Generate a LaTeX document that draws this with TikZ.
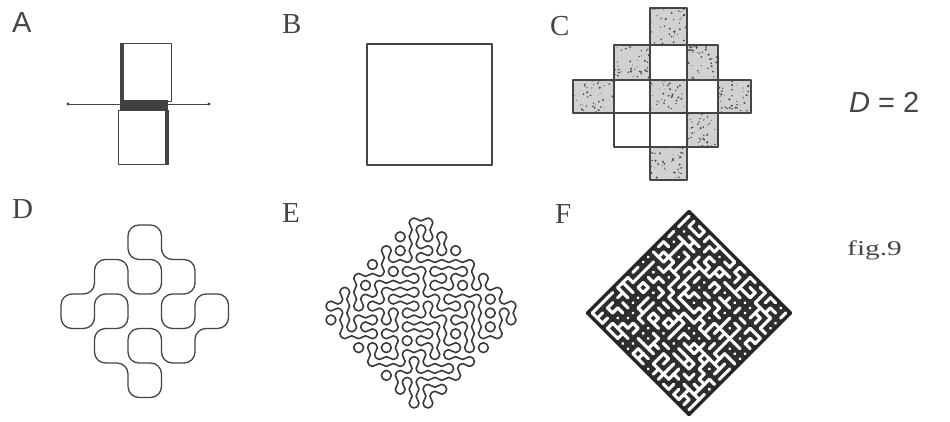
\documentclass[tikz,border=0pt]{standalone}
\usepackage{fontspec}
\setmainfont{Liberation Serif}
\newfontfamily\sansf{Liberation Sans}
\newfontfamily\figfont[FakeStretch=1.4]{Liberation Serif}
\newcommand\truarc[4]{\draw ({(#1)+(#3)*\hh},{#2}) .. controls ({(#1)+(#3)*\hh},{(#2)+(#4)*\kk}) and ({(#1)+(#3)*\kk},{(#2)+(#4)*\hh}) .. ({#1},{(#2)+(#4)*\hh});}
\newcommand\speck[4]{\fill[black!18] (#1,#2) rectangle (#3,#4);
  \foreach \n in {1,...,45}{\fill[black!72] ({#1+rnd*(#3-#1)},{#2+rnd*(#4-#2)}) circle ({0.35+0.8*rnd});}}
\begin{document}
\begin{tikzpicture}[x=1pt,y=-1pt,line join=round]
\definecolor{ink}{gray}{0.27}
\useasboundingbox (0,0) rectangle (950,421);
\fill[white] (0,0) rectangle (950,421);
\pgfmathsetseed{4242}
\tikzset{
  lab/.style={inner sep=0pt,anchor=base west,text=ink,font=\fontsize{29}{30}\selectfont},
  thin line/.style={draw=ink,line width=1pt},
  cellbox/.style={draw=ink,line width=1.6pt},
  curve/.style={draw=ink,line width=1.3pt}
}
% ---------- labels
\node[lab,font=\sansf\fontsize{29}{30}\selectfont] (lA) at (12,32) {A};
\node[lab] (lB) at (282,33) {B};
\node[lab] (lC) at (550,35) {C};
\node[lab] (lD) at (12,218) {D};
\node[lab] (lE) at (282,222) {E};
\node[lab] (lF) at (555,223) {F};
\node[inner sep=0pt,anchor=base west,text=ink,font=\sansf\fontsize{29}{30}\selectfont] (dim) at (849,112) {\textit{D}\ =\ 2};
\node[inner sep=0pt,anchor=base west,text=ink,font=\figfont\fontsize{21}{24}\selectfont] (fig) at (847,255) {fig.9};
% ---------- A
\coordinate (aL) at (68,104);
\coordinate (aR) at (209,104);
\draw[ink,line width=0.8pt] (aL) -- (aR);
\fill[ink] (aL) circle (1.6);
\fill[ink] (aR) circle (1.6);
\draw[thin line] (120,43) rectangle (171,101);
\fill[ink] (120,43) rectangle (124,101);
\fill[black!75] (120,100) rectangle (168,110);
\draw[thin line] (118,110) rectangle (168,164);
\fill[ink] (164.5,110) rectangle (168,164);
% ---------- B
\draw[ink,line width=1.3pt] (367,44) rectangle (492,165);
% ---------- C
\speck{650}{8}{687}{45}
\speck{614}{45}{650}{80}
\speck{687}{45}{718}{80}
\speck{573}{80}{614}{113}
\speck{650}{80}{687}{113}
\speck{718}{80}{751}{113}
\speck{687}{113}{718}{147}
\speck{650}{147}{687}{180}
\draw[cellbox] (650,8) rectangle (687,45);
\draw[cellbox] (614,45) rectangle (650,80);
\draw[cellbox] (650,45) rectangle (687,80);
\draw[cellbox] (687,45) rectangle (718,80);
\draw[cellbox] (573,80) rectangle (614,113);
\draw[cellbox] (614,80) rectangle (650,113);
\draw[cellbox] (650,80) rectangle (687,113);
\draw[cellbox] (687,80) rectangle (718,113);
\draw[cellbox] (718,80) rectangle (751,113);
\draw[cellbox] (614,113) rectangle (650,147);
\draw[cellbox] (650,113) rectangle (687,147);
\draw[cellbox] (687,113) rectangle (718,147);
\draw[cellbox] (650,147) rectangle (687,180);
% ---------- D
\begin{scope}[shift={(61,225)},x=33.5pt,y=-34.5pt]
\draw[curve,rounded corners=11pt] (1.5,1) -- (2,1) -- (2,2) -- (3,2) -- (3,1) -- (2,1) -- (2,0) -- (3,0) -- (3,1) -- (4,1)
 -- (4,2) -- (3,2) -- (3,3) -- (4,3) -- (4,2) -- (5,2) -- (5,3) -- (4,3) -- (4,4)
 -- (3,4) -- (3,3) -- (2,3) -- (2,4) -- (3,4) -- (3,5) -- (2,5) -- (2,4) -- (1,4)
 -- (1,3) -- (2,3) -- (2,2) -- (1,2) -- (1,3) -- (0,3) -- (0,2) -- (1,2) -- (1,1) -- (1.5,1);
\end{scope}
% ---------- E (meandering curve)
\begin{scope}[shift={(421,313)},rotate=45,curve,line width=1.6pt,draw=black!78]
\def\cc{9.8}\def\OO{-68.6}\def\EE{68.6}
\pgfmathsetmacro\hh{\cc/2}
\pgfmathsetmacro\kk{0.5523*\hh}
\foreach \i in {0,...,13}{\foreach \j in {0,...,13}{
  \pgfmathsetmacro\X{\OO+\i*\cc}
  \pgfmathsetmacro\Y{\OO+\j*\cc}
  \pgfmathrandominteger{\r}{0}{1}
  \ifnum\r=0
    \truarc{\X}{\Y}{1}{1}\truarc{\X+\cc}{\Y+\cc}{-1}{-1}
  \else
    \truarc{\X+\cc}{\Y}{-1}{1}\truarc{\X}{\Y+\cc}{1}{-1}
  \fi
}}
\foreach \k in {0,2,...,12}{
  \pgfmathsetmacro\M{\OO+(\k+1)*\cc}
  \truarc{\M}{\OO}{-1}{-1}\truarc{\M}{\OO}{1}{-1}
  \truarc{\M}{\EE}{-1}{1}\truarc{\M}{\EE}{1}{1}
  \truarc{\OO}{\M}{-1}{-1}\truarc{\OO}{\M}{-1}{1}
  \truarc{\EE}{\M}{1}{-1}\truarc{\EE}{\M}{1}{1}
}
\end{scope}
% ---------- F (dense maze)
\begin{scope}[shift={(689,313)},rotate=45]
\fill[black!82] (-72,-72) rectangle (72,72);
\foreach \i in {0,...,19}{\foreach \j in {0,...,19}{
  \pgfmathsetmacro\cx{-72+(\i+0.5)*7.2}
  \pgfmathsetmacro\cy{-72+(\j+0.5)*7.2}
  \fill[white] (\cx,\cy) circle (1.6);
  \pgfmathrandominteger{\r}{0}{99}
  \ifnum\i<19 \ifnum\r<42 \draw[white,line width=3.1pt,line cap=round] (\cx,\cy) -- ++(7.2,0);\fi\fi
  \pgfmathrandominteger{\s}{0}{99}
  \ifnum\j<19 \ifnum\s<42 \draw[white,line width=3.1pt,line cap=round] (\cx,\cy) -- ++(0,7.2);\fi\fi
}}
\draw[black!85,line width=3pt] (-72,-72) rectangle (72,72);
\end{scope}
\end{tikzpicture}
\end{document}
